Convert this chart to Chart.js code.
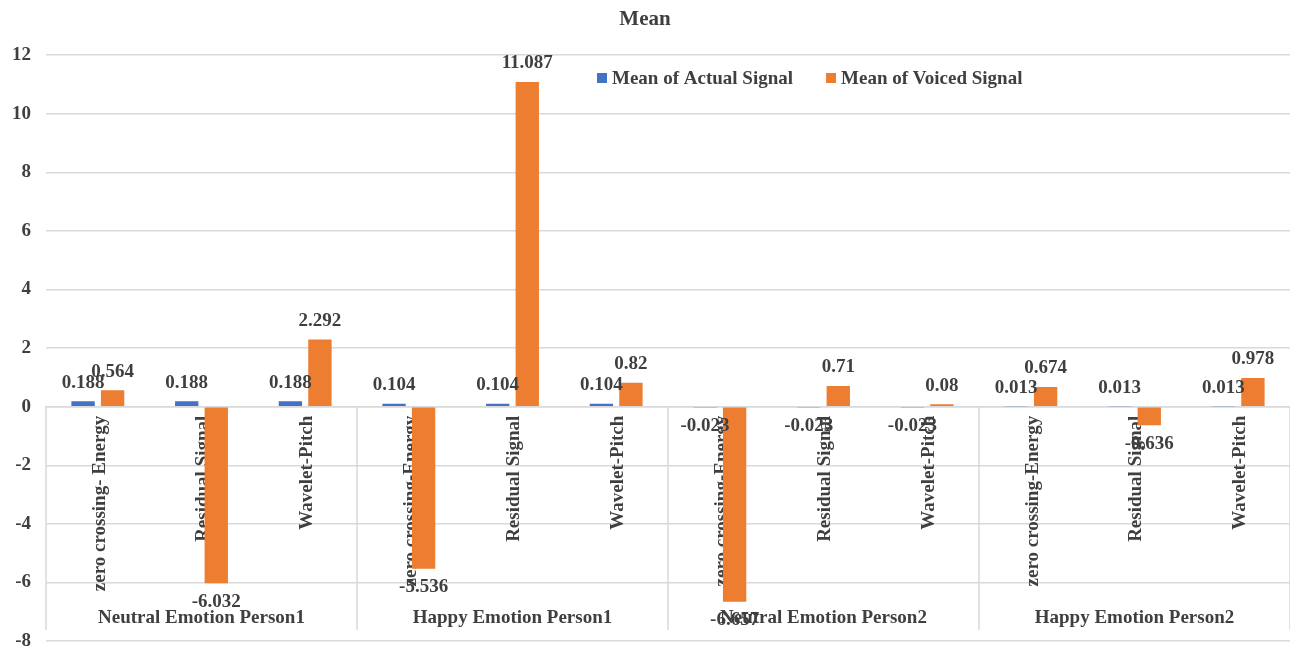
<!DOCTYPE html>
<html>
<head>
<meta charset="utf-8">
<title>Mean</title>
<script src="https://cdn.jsdelivr.net/npm/chart.js@4.4.1/dist/chart.umd.min.js"></script>
<style>
  html, body { margin: 0; padding: 0; background: #ffffff; }
  canvas { display: block; }
</style>
</head>
<body>
<canvas id="chart" width="1290" height="648"></canvas>
<script>
// Outer category groups and the features measured inside each group
const groups = ['Neutral Emotion Person1', 'Happy Emotion Person1', 'Neutral Emotion Person2', 'Happy Emotion Person2'];
const groupSizes = [3, 3, 3, 3];
const categories = [
  'zero crossing- Energy', 'Residual Signal', 'Wavelet-Pitch',
  'zero crossing-Energy', 'Residual Signal', 'Wavelet-Pitch',
  'zero crossing-Energy', 'Residual Signal', 'Wavelet-Pitch',
  'zero crossing-Energy', 'Residual Signal', 'Wavelet-Pitch'
];

// Series values
const actualMean = [0.188, 0.188, 0.188, 0.104, 0.104, 0.104, -0.023, -0.023, -0.023, 0.013, 0.013, 0.013];
const voicedMean = [0.564, -6.032, 2.292, -5.536, 11.087, 0.82, -6.657, 0.71, 0.08, 0.674, -0.636, 0.978];

// Value axis
const yMin = -8;
const yMax = 12;
const yStep = 2;

const FONT = "'Liberation Serif', 'Times New Roman', serif";
const TEXT = '#3f3f3f';
const GRID = '#d9d9d9';
const boldFont = (size) => ({ family: FONT, size: size, weight: 'bold' });

// Value labels above positive bars and below negative ones
const valueLabels = {
  id: 'valueLabels',
  afterDatasetsDraw(chart) {
    const ctx = chart.ctx;
    ctx.save();
    ctx.font = 'bold 19px ' + FONT;
    ctx.fillStyle = TEXT;
    ctx.textAlign = 'center';
    ctx.textBaseline = 'middle';
    chart.data.datasets.forEach((ds, di) => {
      chart.getDatasetMeta(di).data.forEach((bar, i) => {
        const v = ds.data[i];
        const y = v >= 0 ? bar.y - 18.5 : bar.y + 18.5;
        ctx.fillText(String(v), bar.x, y);
      });
    });
    ctx.restore();
  }
};

// Group separators and outer group labels of the two-level category axis
const groupAxis = {
  id: 'groupAxis',
  afterDraw(chart) {
    const ctx = chart.ctx;
    const xs = chart.scales.x;
    const ys = chart.scales.y;
    const area = chart.chartArea;
    const zero = ys.getPixelForValue(0);
    const half = (xs.getPixelForValue(1) - xs.getPixelForValue(0)) / 2;
    const lineBottom = area.bottom - 11;
    ctx.save();
    ctx.strokeStyle = GRID;
    ctx.lineWidth = 1.5;
    ctx.font = 'bold 19px ' + FONT;
    ctx.fillStyle = TEXT;
    ctx.textAlign = 'center';
    ctx.textBaseline = 'middle';
    let start = 0;
    groups.forEach((g, gi) => {
      const end = start + groupSizes[gi];
      const left = xs.getPixelForValue(start) - half;
      const right = xs.getPixelForValue(end - 1) + half;
      ctx.beginPath();
      ctx.moveTo(left, zero);
      ctx.lineTo(left, lineBottom);
      if (gi === groups.length - 1) {
        ctx.moveTo(right, zero);
        ctx.lineTo(right, lineBottom);
      }
      ctx.stroke();
      ctx.fillText(g, (left + right) / 2, area.bottom - 23);
      start = end;
    });
    ctx.restore();
  }
};

// Legend drawn inside the plot area
const innerLegend = {
  id: 'innerLegend',
  afterDraw(chart, args, opts) {
    const ctx = chart.ctx;
    ctx.save();
    ctx.font = 'bold 19px ' + FONT;
    ctx.textBaseline = 'middle';
    ctx.textAlign = 'left';
    let x = opts.x;
    const y = opts.y;
    chart.data.datasets.forEach((ds) => {
      ctx.fillStyle = ds.backgroundColor;
      ctx.fillRect(x, y - 5, 10, 10);
      x += 15;
      ctx.fillStyle = TEXT;
      ctx.fillText(ds.label, x, y + 1);
      x += ctx.measureText(ds.label).width + 33;
    });
    ctx.restore();
  }
};

new Chart(document.getElementById('chart'), {
  type: 'bar',
  data: {
    labels: categories,
    datasets: [
      { label: 'Mean of Actual Signal', data: actualMean, backgroundColor: '#4472C4' },
      { label: 'Mean of Voiced Signal', data: voicedMean, backgroundColor: '#ED7D31' }
    ]
  },
  options: {
    responsive: false,
    animation: false,
    devicePixelRatio: 1,
    categoryPercentage: 0.57,
    barPercentage: 0.79,
    layout: { padding: { left: 0, right: 0, top: 0, bottom: 7 } },
    plugins: {
      legend: { display: false },
      tooltip: { enabled: false },
      title: {
        display: true,
        text: 'Mean',
        color: TEXT,
        font: boldFont(21),
        padding: { top: 7, bottom: 23 }
      },
      innerLegend: { x: 597, y: 78 }
    },
    scales: {
      x: {
        position: { y: 0 },
        z: 1,
        grid: { display: false, drawTicks: false },
        border: { display: true, color: GRID, width: 1.5 },
        ticks: {
          autoSkip: false,
          minRotation: 90,
          maxRotation: 90,
          padding: 9,
          labelOffset: 2,
          color: TEXT,
          font: boldFont(19)
        },
        afterFit(s) { s.paddingLeft = 0; s.paddingRight = 0; }
      },
      y: {
        min: yMin,
        max: yMax,
        ticks: { stepSize: yStep, padding: 15, color: TEXT, font: boldFont(19) },
        grid: { color: GRID, lineWidth: 1.5, drawTicks: false },
        border: { display: false },
        afterFit(s) { s.width = 46; s.paddingTop = 0; s.paddingBottom = 0; }
      }
    }
  },
  plugins: [valueLabels, groupAxis, innerLegend]
});
</script>
</body>
</html>
